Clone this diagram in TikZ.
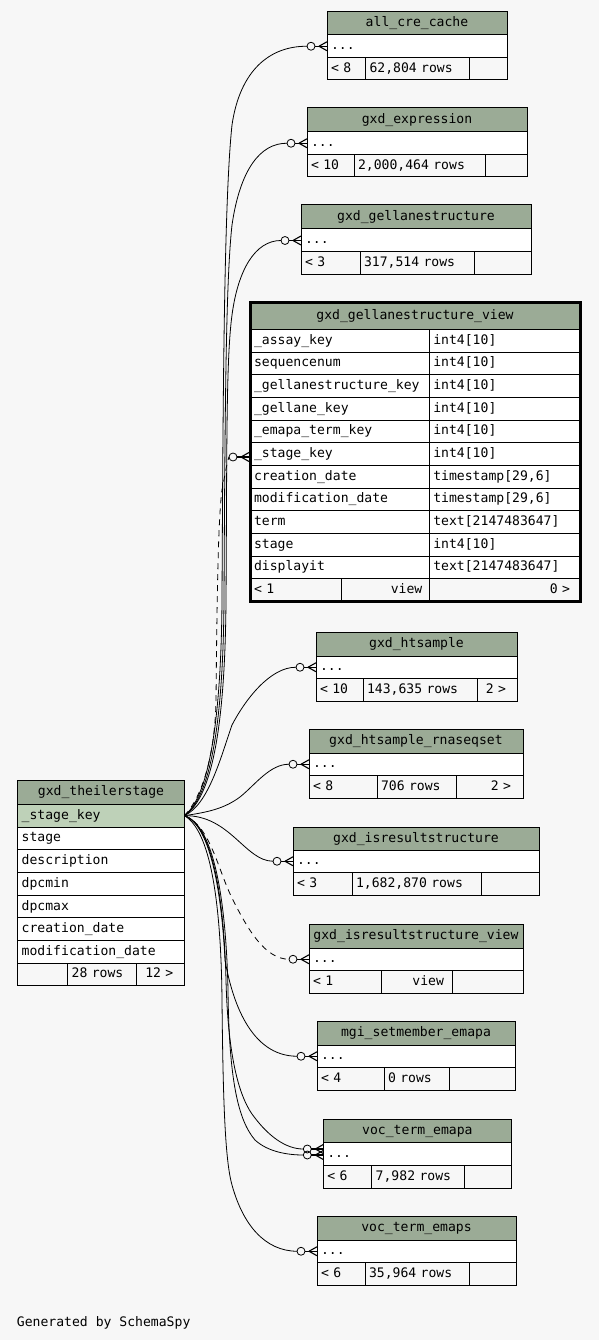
\documentclass[tikz,border=0pt]{standalone}
\usepackage{fontspec}
\setmonofont{DejaVu Sans Mono}
\usetikzlibrary{calc}
\definecolor{hdrc}{HTML}{9BAB96}
\definecolor{keyc}{HTML}{BED1B8}
\definecolor{bgc}{HTML}{F7F7F7}
\newcommand{\tf}{\ttfamily\fontsize{13.1bp}{15bp}\selectfont}
\tikzset{
  cell/.style={draw=black, line width=1bp, anchor=north west, inner xsep=4bp, inner ysep=0pt,
    outer sep=0pt, text height=10bp, text depth=3bp, font=\tf, align=left, fill=white},
  hdr/.style={fill=hdrc, align=center},
  key/.style={fill=keyc},
  foot/.style={fill=bgc},
  rfoot/.style={fill=bgc, align=right},
  edge/.style={draw=black, line width=0.8bp},
  dedge/.style={draw=black, line width=0.8bp, dash pattern=on 6bp off 5bp},
  crow/.style={draw=black, line width=1.1bp}
}
\newcommand{\cellbox}[7]{%
  \pgfmathsetmacro\cw{#5-#3-8}\pgfmathsetmacro\ch{#6-#4}%
  \node[cell, #2, text width=\cw bp, minimum height=\ch bp] (#1) at (#3,#4) {#7};}
\newcommand{\crowfoot}[2]{%
  \coordinate (#1) at ($#2+(-20,0)$);
  \draw[edge] ($#2+(-16,0)$) circle[radius=4bp];
  \draw[crow] ($#2+(-12,0)$) -- #2;
  \draw[crow] ($#2+(-8,0)$) -- ($#2+(0,-4.5)$) ($#2+(-8,0)$) -- ($#2+(0,4.5)$);}
\begin{document}
\begin{tikzpicture}[x=1bp, y=-1bp]
\fill[bgc] (0,0) rectangle (599,1340);
\useasboundingbox (0,0) rectangle (599,1340);

% all_cre_cache
\cellbox{ac-h}{hdr}{327}{11.5}{507}{35}{all\_cre\_cache}
\cellbox{ac-row}{}{327}{35}{507}{57.5}{...}
\cellbox{ac-f1}{foot}{327}{57.5}{365.5}{80}{< 8}
\cellbox{ac-f2}{foot}{365.5}{57.5}{469.5}{80}{62,804 rows}
\cellbox{ac-f3}{foot}{469.5}{57.5}{507}{80}{}

% gxd_expression
\cellbox{ex-h}{hdr}{307}{108}{527}{132}{gxd\_expression}
\cellbox{ex-row}{}{307}{132}{527}{154.5}{...}
\cellbox{ex-f1}{foot}{307}{154.5}{354}{177}{< 10}
\cellbox{ex-f2}{foot}{354}{154.5}{485}{177}{2,000,464 rows}
\cellbox{ex-f3}{foot}{485}{154.5}{527}{177}{}

% gxd_gellanestructure
\cellbox{gs-h}{hdr}{301}{205}{531}{229}{gxd\_gellanestructure}
\cellbox{gs-row}{}{301}{229}{531}{252}{...}
\cellbox{gs-f1}{foot}{301}{252}{360}{275}{< 3}
\cellbox{gs-f2}{foot}{360}{252}{474}{275}{317,514 rows}
\cellbox{gs-f3}{foot}{474}{252}{531}{275}{}

% gxd_gellanestructure_view
\cellbox{vw-h}{hdr}{250}{303}{580}{329.3}{gxd\_gellanestructure\_view}
\cellbox{vw-a1}{}{250}{329.3}{429.3}{352}{\_assay\_key}
\cellbox{vw-b1}{}{429.3}{329.3}{580}{352}{int4[10]}
\cellbox{vw-a2}{}{250}{352}{429.3}{374.5}{sequencenum}
\cellbox{vw-b2}{}{429.3}{352}{580}{374.5}{int4[10]}
\cellbox{vw-a3}{}{250}{374.5}{429.3}{397.2}{\_gellanestructure\_key}
\cellbox{vw-b3}{}{429.3}{374.5}{580}{397.2}{int4[10]}
\cellbox{vw-a4}{}{250}{397.2}{429.3}{420}{\_gellane\_key}
\cellbox{vw-b4}{}{429.3}{397.2}{580}{420}{int4[10]}
\cellbox{vw-a5}{}{250}{420}{429.3}{442.7}{\_emapa\_term\_key}
\cellbox{vw-b5}{}{429.3}{420}{580}{442.7}{int4[10]}
\cellbox{vw-stage}{}{250}{442.7}{429.3}{465.3}{\_stage\_key}
\cellbox{vw-b6}{}{429.3}{442.7}{580}{465.3}{int4[10]}
\cellbox{vw-a7}{}{250}{465.3}{429.3}{488}{creation\_date}
\cellbox{vw-b7}{}{429.3}{465.3}{580}{488}{timestamp[29,6]}
\cellbox{vw-a8}{}{250}{488}{429.3}{510.7}{modification\_date}
\cellbox{vw-b8}{}{429.3}{488}{580}{510.7}{timestamp[29,6]}
\cellbox{vw-a9}{}{250}{510.7}{429.3}{533.3}{term}
\cellbox{vw-b9}{}{429.3}{510.7}{580}{533.3}{text[2147483647]}
\cellbox{vw-a10}{}{250}{533.3}{429.3}{556}{stage}
\cellbox{vw-b10}{}{429.3}{533.3}{580}{556}{int4[10]}
\cellbox{vw-a11}{}{250}{556}{429.3}{578.7}{displayit}
\cellbox{vw-b11}{}{429.3}{556}{580}{578.7}{text[2147483647]}
\cellbox{vw-f1}{foot}{250}{578.7}{341.5}{601.5}{< 1}
\cellbox{vw-f2}{rfoot}{341.5}{578.7}{429.3}{601.5}{view\kern3bp}
\cellbox{vw-f3}{rfoot}{429.3}{578.7}{580}{601.5}{0 >\kern6bp}
\draw[line width=3bp] (vw-h.north west) rectangle (vw-f3.south east);

% gxd_htsample
\cellbox{hs-h}{hdr}{316}{632}{517}{656}{gxd\_htsample}
\cellbox{hs-row}{}{316}{656}{517}{678.5}{...}
\cellbox{hs-f1}{foot}{316}{678.5}{363}{701}{< 10}
\cellbox{hs-f2}{foot}{363}{678.5}{477}{701}{143,635 rows}
\cellbox{hs-f3}{rfoot}{477}{678.5}{517}{701}{2 >\kern7bp}

% gxd_htsample_rnaseqset
\cellbox{rs-h}{hdr}{309}{729}{523}{753}{gxd\_htsample\_rnaseqset}
\cellbox{rs-row}{}{309}{753}{523}{775.5}{...}
\cellbox{rs-f1}{foot}{309}{775.5}{377}{798}{< 8}
\cellbox{rs-f2}{foot}{377}{775.5}{456}{798}{706 rows}
\cellbox{rs-f3}{rfoot}{456}{775.5}{523}{798}{2 >\kern8bp}

% gxd_isresultstructure
\cellbox{ir-h}{hdr}{293}{827}{539}{850}{gxd\_isresultstructure}
\cellbox{ir-row}{}{293}{850}{539}{872.5}{...}
\cellbox{ir-f1}{foot}{293}{872.5}{352}{895}{< 3}
\cellbox{ir-f2}{foot}{352}{872.5}{481}{895}{1,682,870 rows}
\cellbox{ir-f3}{foot}{481}{872.5}{539}{895}{}

% gxd_isresultstructure_view
\cellbox{iv-h}{hdr}{309}{924}{523}{948}{gxd\_isresultstructure\_view}
\cellbox{iv-row}{}{309}{948}{523}{970.5}{...}
\cellbox{iv-f1}{foot}{309}{970.5}{381}{993}{< 1}
\cellbox{iv-f2}{rfoot}{381}{970.5}{452}{993}{view\kern4bp}
\cellbox{iv-f3}{foot}{452}{970.5}{523}{993}{}

% mgi_setmember_emapa
\cellbox{ms-h}{hdr}{317}{1021}{515}{1045}{mgi\_setmember\_emapa}
\cellbox{ms-row}{}{317}{1045}{515}{1067.5}{...}
\cellbox{ms-f1}{foot}{317}{1067.5}{384}{1090}{< 4}
\cellbox{ms-f2}{foot}{384}{1067.5}{449}{1090}{0 rows}
\cellbox{ms-f3}{foot}{449}{1067.5}{515}{1090}{}

% voc_term_emapa
\cellbox{va-h}{hdr}{323.3}{1119.3}{511.5}{1142.7}{voc\_term\_emapa}
\cellbox{va-row}{}{323.3}{1142.7}{511.5}{1165.3}{...}
\cellbox{va-f1}{foot}{323.3}{1165.3}{371.7}{1188}{< 6}
\cellbox{va-f2}{foot}{371.7}{1165.3}{464.3}{1188}{7,982 rows}
\cellbox{va-f3}{foot}{464.3}{1165.3}{511.5}{1188}{}

% voc_term_emaps
\cellbox{vs-h}{hdr}{317}{1216}{516}{1240}{voc\_term\_emaps}
\cellbox{vs-row}{}{317}{1240}{516}{1262.5}{...}
\cellbox{vs-f1}{foot}{317}{1262.5}{365}{1285}{< 6}
\cellbox{vs-f2}{foot}{365}{1262.5}{469}{1285}{35,964 rows}
\cellbox{vs-f3}{foot}{469}{1262.5}{516}{1285}{}

% gxd_theilerstage
\cellbox{ts-h}{hdr}{17.7}{780.3}{184.3}{804.3}{gxd\_theilerstage}
\cellbox{ts-key}{key}{17.7}{804.3}{184.3}{827}{\_stage\_key}
\cellbox{ts-r2}{}{17.7}{827}{184.3}{849.7}{stage}
\cellbox{ts-r3}{}{17.7}{849.7}{184.3}{872.3}{description}
\cellbox{ts-r4}{}{17.7}{872.3}{184.3}{895.3}{dpcmin}
\cellbox{ts-r5}{}{17.7}{895.3}{184.3}{917.7}{dpcmax}
\cellbox{ts-r6}{}{17.7}{917.7}{184.3}{940.3}{creation\_date}
\cellbox{ts-r7}{}{17.7}{940.3}{184.3}{963}{modification\_date}
\cellbox{ts-f1}{foot}{17.7}{963}{67.7}{985.3}{}
\cellbox{ts-f2}{foot}{67.7}{963}{136.7}{985.3}{28 rows}
\cellbox{ts-f3}{rfoot}{136.7}{963}{184.3}{985.3}{12 >\kern7bp}

% crow's feet
\crowfoot{e1}{(ac-row.west)}
\crowfoot{e2}{(ex-row.west)}
\crowfoot{e3}{(gs-row.west)}
\crowfoot{e4}{($(vw-stage.west)+(-1,3)$)}
\crowfoot{e5}{(hs-row.west)}
\crowfoot{e6}{(rs-row.west)}
\crowfoot{e7}{(ir-row.west)}
\crowfoot{e8}{(iv-row.west)}
\crowfoot{e9}{(ms-row.west)}
\crowfoot{e10}{($(va-row.west)+(0,-5)$)}
\crowfoot{e11}{($(va-row.west)+(0,1)$)}
\crowfoot{e12}{(vs-row.west)}

% connectors
\draw[edge] (ts-key.east) .. controls (205,800) and (221,740) .. (222,600)
  .. controls (223,400) and (224,200) .. (232,125) .. controls (240,70) and (270,46) .. (e1);
\draw[edge] (ts-key.east) .. controls (207,800) and (223,740) .. (224,600)
  .. controls (225,400) and (226,280) .. (232,225) .. controls (240,170) and (260,143) .. (e2);
\draw[edge] (ts-key.east) .. controls (209,800) and (225,740) .. (226,600)
  .. controls (227,450) and (226,360) .. (232,315) .. controls (238,270) and (255,240.5) .. (e3);
\draw[dedge] (ts-key.east) .. controls (200,800) and (215,760) .. (216,700)
  .. controls (217,600) and (218,520) .. (222,490) .. controls (225,475) and (227,462) .. (e4);
\draw[edge] (ts-key.east) .. controls (208,805) and (220,760) .. (232,725)
  .. controls (245,700) and (270,667) .. (e5);
\draw[edge] (ts-key.east) .. controls (210,812) and (225,808) .. (240,797)
  .. controls (255,785) and (270,764) .. (e6);
\draw[edge] (ts-key.east) .. controls (230,815) and (245,861) .. (e7);
\draw[dedge] (ts-key.east) .. controls (210,825) and (218,870) .. (232,898)
  .. controls (248,930) and (265,959) .. (e8);
\draw[edge] (ts-key.east) .. controls (212,825) and (222,900) .. (225,960)
  .. controls (232,1000) and (250,1056) .. (e9);
\draw[edge] (ts-key.east) .. controls (213,825) and (224,900) .. (226,980)
  .. controls (228,1060) and (240,1100) .. (255,1118) .. controls (268,1135) and (285,1149) .. (e10);
\draw[edge] (ts-key.east) .. controls (214,825) and (226,900) .. (228,990)
  .. controls (229,1080) and (238,1120) .. (255,1140) .. controls (268,1152) and (288,1155) .. (e11);
\draw[edge] (ts-key.east) .. controls (210,830) and (221,900) .. (222,1000)
  .. controls (223,1100) and (225,1160) .. (232,1185) .. controls (243,1225) and (265,1251) .. (e12);

\node[font=\tf, anchor=base west, inner sep=0pt] (gen) at (16.7,1326.7) {Generated by SchemaSpy};
\end{tikzpicture}
\end{document}
